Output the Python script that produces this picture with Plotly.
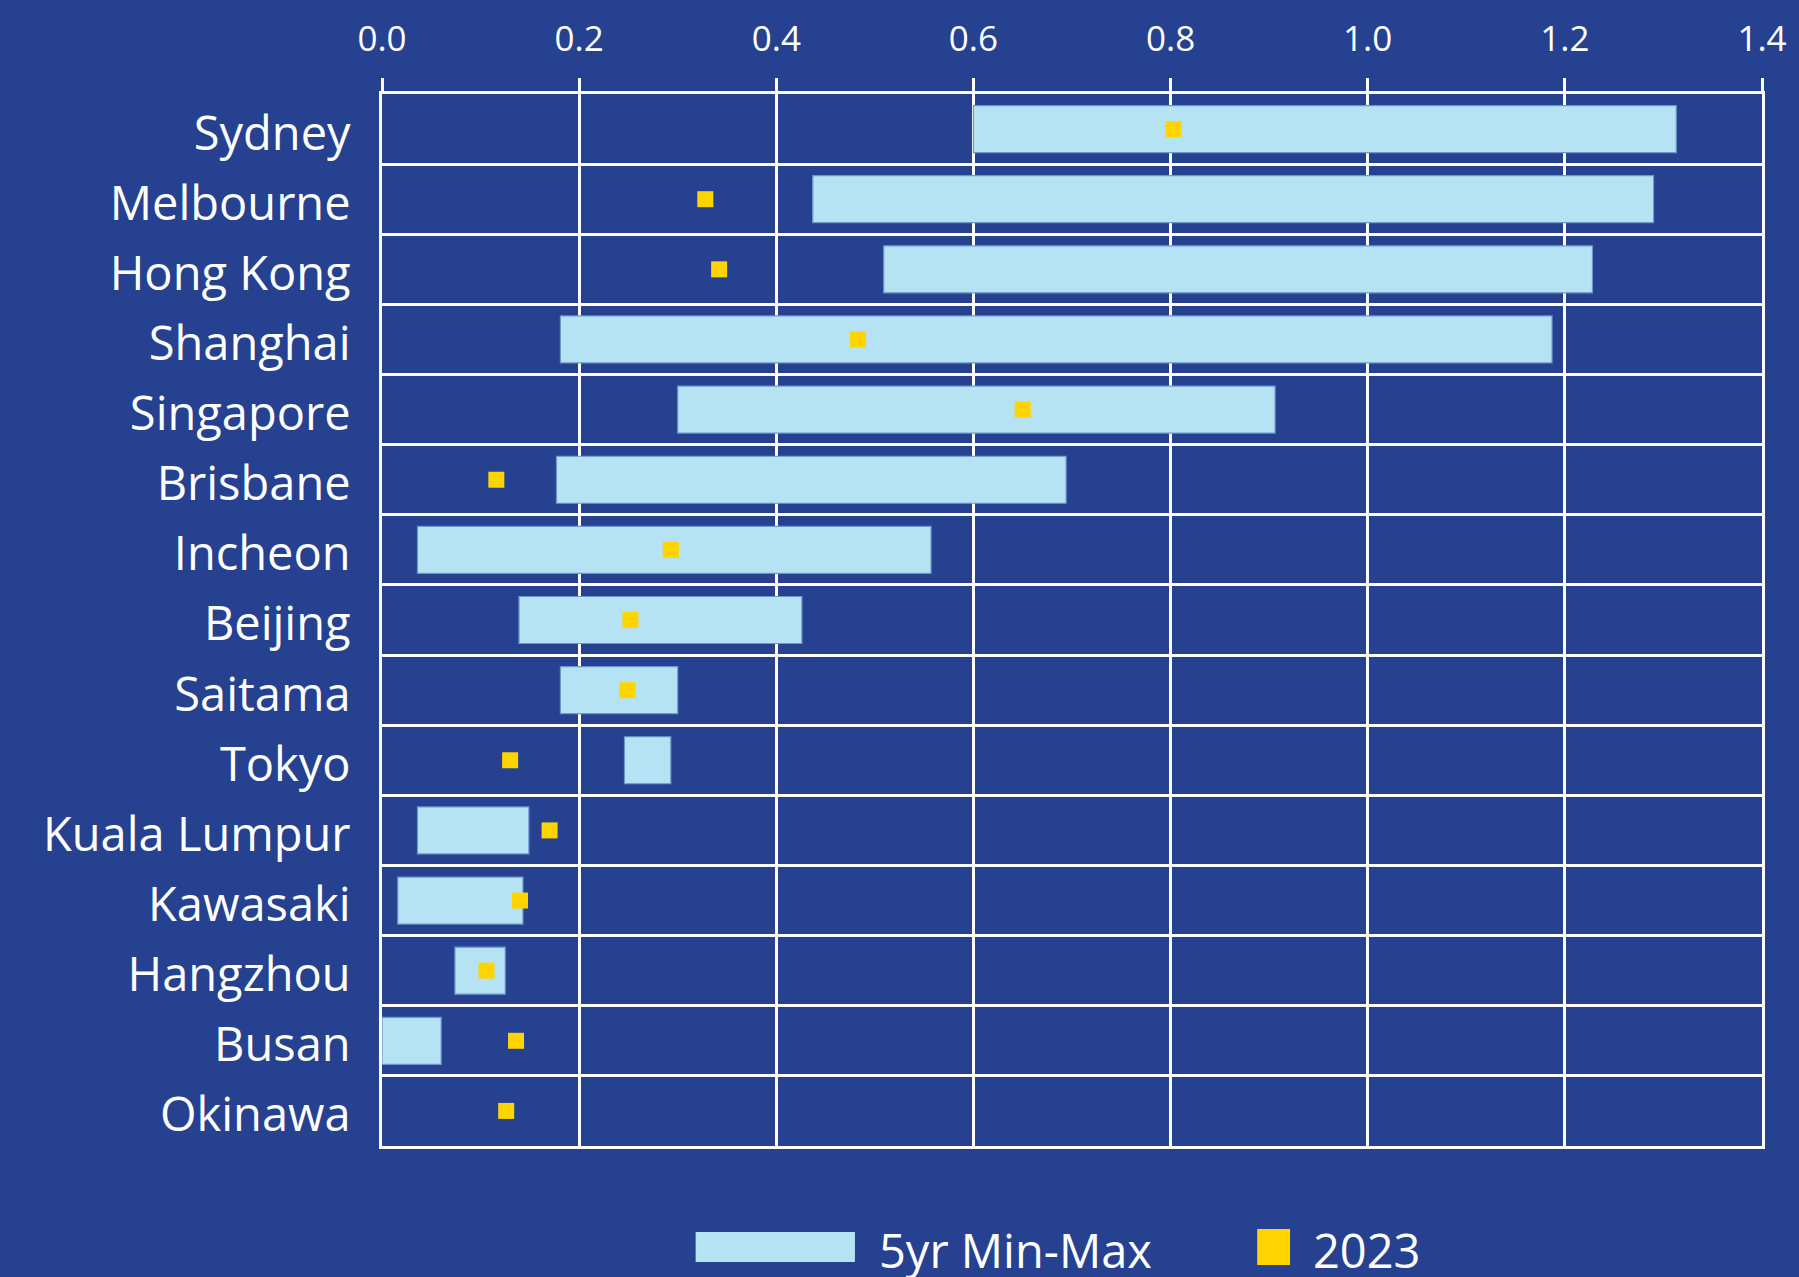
import plotly.graph_objects as go

# Cities, top to bottom
cities = ["Sydney", "Melbourne", "Hong Kong", "Shanghai", "Singapore", "Brisbane",
          "Incheon", "Beijing", "Saitama", "Tokyo", "Kuala Lumpur", "Kawasaki",
          "Hangzhou", "Busan", "Okinawa"]

# Five-year range (min / max)
range_min = [0.600, 0.437, 0.509, 0.181, 0.300, 0.177, 0.036, 0.139, 0.181, 0.246,
             0.036, 0.016, 0.074, 0.000, None]
range_max = [1.313, 1.290, 1.228, 1.187, 0.906, 0.694, 0.557, 0.426, 0.300, 0.293,
             0.149, 0.143, 0.125, 0.060, None]

# 2023 value
value_2023 = [0.803, 0.328, 0.342, 0.483, 0.650, 0.116, 0.293, 0.252, 0.249, 0.130,
              0.170, 0.140, 0.106, 0.136, 0.126]

x_ticks = [0.0, 0.2, 0.4, 0.6, 0.8, 1.0, 1.2, 1.4]

BG = "#26418F"
LIGHT = "#B5E3F3"
YELLOW = "#FFD400"
FONT = "Open Sans"

# Plot-area geometry (px)
W, H = 1799, 1277
L, R, T, B = 382, 31, 94, 131
PW, PH = W - L - R, H - T - B

span = [None if a is None else b - a for a, b in zip(range_min, range_max)]

fig = go.Figure()
fig.add_trace(go.Bar(
    y=cities, x=span, base=range_min, orientation="h", width=0.67,
    marker=dict(color=LIGHT, line=dict(color="#6E96CC", width=1.2)),
    name="5yr Min-Max", showlegend=False,
))
fig.add_trace(go.Scatter(
    y=cities, x=value_2023, mode="markers",
    marker=dict(symbol="square", size=16, color=YELLOW, line=dict(width=0)),
    name="2023", showlegend=False,
))

fig.update_layout(
    width=W, height=H,
    paper_bgcolor=BG, plot_bgcolor=BG,
    margin=dict(l=L, r=R, t=T, b=B, pad=0),
    barmode="overlay",
    font=dict(family=FONT, color="white"),
    xaxis=dict(
        side="top", range=[0, 1.4], tickvals=x_ticks,
        ticktext=[f"{v:.1f}" for v in x_ticks],
        showgrid=True, gridcolor="white", gridwidth=3,
        zeroline=False,
        showline=True, linecolor="white", linewidth=3, mirror=True,
        ticks="outside", ticklen=13, tickwidth=3, tickcolor="white",
        ticklabelstandoff=13,
        tickfont=dict(size=35, color="white", family=FONT),
        fixedrange=True,
    ),
    yaxis=dict(
        type="category", categoryorder="array", categoryarray=cities,
        range=[len(cities) - 0.5, -0.5], tickson="boundaries",
        showgrid=True, gridcolor="white", gridwidth=3,
        showline=True, linecolor="white", linewidth=3, mirror=True,
        ticks="", ticklabelstandoff=19, ticklabelshift=-4,
        tickfont=dict(size=47, color="white", family=FONT),
        fixedrange=True,
    ),
)

def px_x(px):
    return (px - L) / PW

def px_y(py):
    return (H - B - py) / PH

# Legend: wide swatch for the range, small square for 2023
fig.add_shape(type="rect", xref="paper", yref="paper",
              x0=px_x(697), x1=px_x(857), y0=px_y(1262), y1=px_y(1232),
              fillcolor=LIGHT, line=dict(width=0))
fig.add_annotation(xref="paper", yref="paper", x=px_x(879), y=px_y(1250),
                   xanchor="left", yanchor="middle", showarrow=False,
                   text="5yr Min-Max", font=dict(size=47, color="white", family=FONT))
fig.add_shape(type="rect", xref="paper", yref="paper",
              x0=px_x(1261), x1=px_x(1294), y0=px_y(1265), y1=px_y(1229),
              fillcolor=YELLOW, line=dict(width=0))
fig.add_annotation(xref="paper", yref="paper", x=px_x(1315), y=px_y(1250),
                   xanchor="left", yanchor="middle", showarrow=False,
                   text="2023", font=dict(size=47, color="white", family=FONT))

fig.write_html("out.html")
